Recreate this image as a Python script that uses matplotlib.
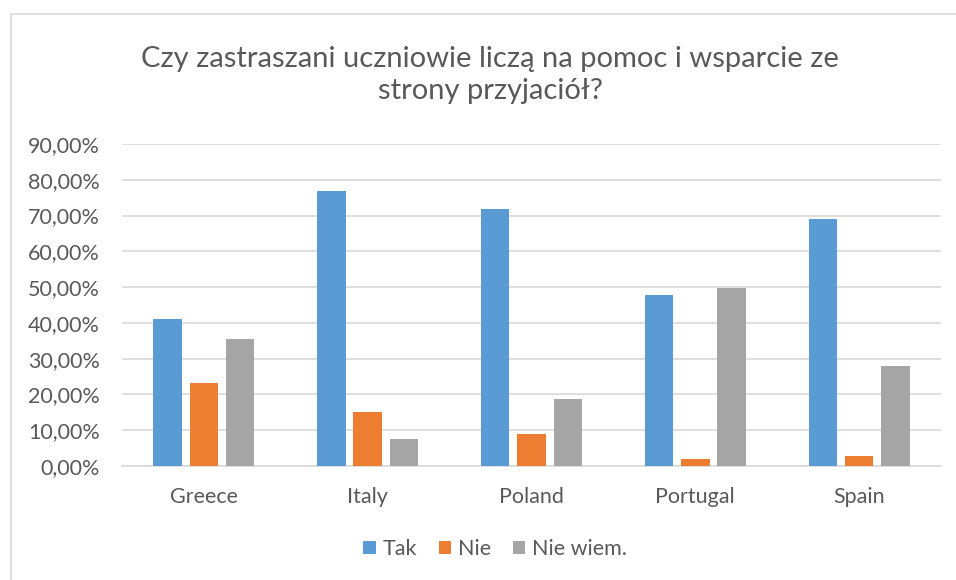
import numpy as np
import matplotlib.pyplot as plt
from matplotlib.patches import Rectangle
from matplotlib.ticker import FuncFormatter

plt.rcParams['font.family'] = ['Lato', 'DejaVu Sans']

# Dane
countries = ['Greece', 'Italy', 'Poland', 'Portugal', 'Spain']
tak = [41.0, 76.8, 71.8, 47.9, 68.9]
nie = [23.1, 15.2, 8.9, 1.9, 2.8]
nie_wiem = [35.5, 7.5, 18.8, 49.8, 27.9]
series_names = ['Tak', 'Nie', 'Nie wiem.']
colors = ['#5b9bd5', '#ed7d31', '#a5a5a5']
title = 'Czy zastraszani uczniowie liczą na pomoc i wsparcie ze\nstrony przyjaciół?'

W, H = 956, 580
fig = plt.figure(figsize=(W / 100, H / 100), dpi=100)
ax = fig.add_axes([122 / W, 1 - 466 / H, (941 - 122) / W, (466 - 144) / H])

# ramka wykresu (wychodzi poza prawą i dolną krawędź)
fig.patches.append(Rectangle((10.5 / W, -1), 2, 2 - 13.5 / H, transform=fig.transFigure,
                             fill=False, edgecolor='#d9d9d9', linewidth=1.2))

x = np.arange(len(countries))
bw = 0.174
step = 0.2217
for i, (vals, name, c) in enumerate(zip([tak, nie, nie_wiem], series_names, colors)):
    ax.bar(x + (i - 1) * step, vals, width=bw, color=c, label=name, zorder=3)

ax.set_xlim(-0.5, len(countries) - 0.5)
ax.set_ylim(0, 90)
ax.set_yticks(np.arange(0, 91, 10))
ax.yaxis.set_major_formatter(FuncFormatter(lambda v, p: f'{v:.2f}'.replace('.', ',') + '%'))
ax.set_xticks(x)
ax.set_xticklabels(countries)
ax.grid(axis='y', color='#d9d9d9', linewidth=1.2, zorder=0)
for s in ['top', 'right', 'left']:
    ax.spines[s].set_visible(False)
ax.spines['bottom'].set_color('#d9d9d9')
ax.spines['bottom'].set_linewidth(1.2)
ax.tick_params(axis='both', length=0, colors='#595959', labelsize=15.5)
ax.tick_params(axis='y', pad=16)
ax.tick_params(axis='x', pad=15)

fig.text(490 / W, 1 - 75 / H, title, ha='center', va='center', fontsize=21,
         color='#595959', linespacing=1.25)

ax.legend(loc='center', bbox_to_anchor=((495 - 122) / (941 - 122), (466 - 549) / (466 - 144)),
          ncol=3, frameon=False, fontsize=15.5, labelcolor='#595959',
          handlelength=0.6, handleheight=0.6, handletextpad=0.3, columnspacing=1.0)

fig.savefig('out.png', dpi=100)
